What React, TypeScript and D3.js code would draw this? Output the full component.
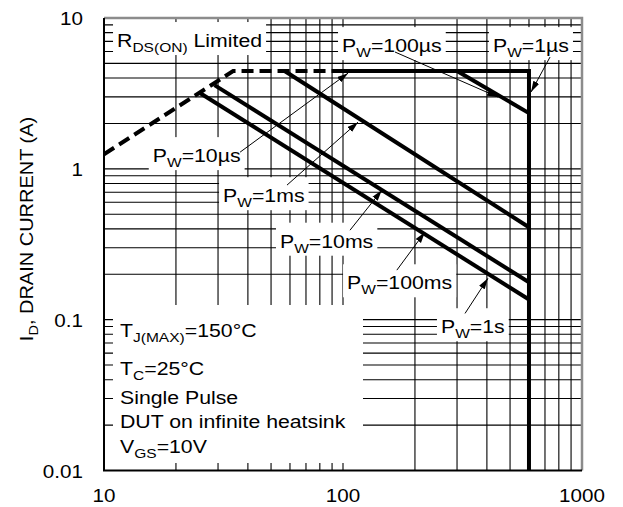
import React, { useEffect, useRef } from 'react';
import * as d3 from 'd3';

type Pt = [number, number];

// SOA boundary segments, [V_DS (V), I_D (A)]
const rdsLimit: Pt[] = [[10, 1.25], [34.7, 4.45], [100, 4.45]];
const pw1us: Pt[] = [[100, 4.45], [600, 4.45], [600, 0.01]];
const pw10us: Pt[] = [[300, 4.45], [600, 2.34]];
const pw100us: Pt[] = [[57, 4.45], [600, 0.41]];
const pw1ms: Pt[] = [[29, 3.59], [600, 0.177]];
const pw10ms: Pt[] = [[25.2, 3.18], [600, 0.136]];

// pulse width callouts
const pulseNames = ['100µs', '1µs', '10µs', '1ms', '10ms', '100ms', '1s'];
const pulseLabelAt: Pt[] = [[99.1, 5.94], [424, 5.94], [16.0, 1.108], [31.5, 0.601], [54.5, 0.3], [104, 0.159], [257, 0.0813]];
const arrowFrom: Pt[] = [[165, 5.95], [735, 5.51], [37.1, 1.29], [58.3, 0.78], [107, 0.392], [168, 0.213], [324, 0.11]];
const arrowTo: Pt[] = [[445, 2.99], [612, 3.23], [105, 4.31], [115.6, 2.04], [145.5, 0.723], [220, 0.38], [404, 0.188]];

const rdsLabelAt: Pt = [11.34, 6.42];

const xTickValues = [10, 100, 1000];
const xTickLabels = ['10', '100', '1000'];
const yTickValues = [0.01, 0.1, 1, 10];
const yTickLabels = ['0.01', '0.1', '1', '10'];

// conditions block: [main, subscript, rest]
const noteLines: [string, string, string][] = [
  ['T', 'J(MAX)', '=150°C'],
  ['T', 'C', '=25°C'],
  ['Single Pulse', '', ''],
  ['DUT on infinite heatsink', '', ''],
  ['V', 'GS', '=10V'],
];
const noteBaselines = [337, 375, 404, 428, 453];

const FONT = '"Liberation Sans", Arial, Helvetica, sans-serif';
const FS = 18.5;
const SX = 1.15;

const App: React.FC = () => {
  const svgRef = useRef<SVGSVGElement | null>(null);

  useEffect(() => {
    drawChart();
  }, []);

  const drawChart = () => {
    const W = 623;
    const H = 507;
    const x0 = 104, x1 = 582, y0 = 18, y1 = 470.5;

    const svg = d3.select(svgRef.current);
    svg.selectAll('*').remove();
    svg.attr('width', W).attr('height', H).style('font-family', FONT);

    const xScale = d3.scaleLog().domain([10, 1000]).range([x0, x1]);
    const yScale = d3.scaleLog().domain([0.01, 10]).range([y1, y0]);

    svg.append('rect').attr('width', W).attr('height', H).attr('fill', '#fff');

    const defs = svg.append('defs');
    defs.append('marker')
      .attr('id', 'head')
      .attr('viewBox', '0 0 10 6')
      .attr('refX', 10)
      .attr('refY', 3)
      .attr('markerWidth', 11)
      .attr('markerHeight', 7)
      .attr('markerUnits', 'userSpaceOnUse')
      .attr('orient', 'auto')
      .append('path')
      .attr('d', 'M0,0 L10,3 L0,6 z')
      .attr('fill', '#000');

    // grid
    const grid = svg.append('g').attr('stroke', '#000').attr('stroke-width', 1.1);
    xScale.ticks().filter((v) => v > 10 && v < 1000).forEach((v) => {
      grid.append('line').attr('x1', xScale(v)).attr('x2', xScale(v)).attr('y1', y0).attr('y2', y1);
    });
    yScale.ticks().filter((v) => v > 0.0101 && v < 9.99).forEach((v) => {
      grid.append('line').attr('x1', x0).attr('x2', x1).attr('y1', yScale(v)).attr('y2', yScale(v));
    });

    const addParts = (text: d3.Selection<SVGTextElement, unknown, null, undefined>, main: string, sub: string, rest: string) => {
      text.append('tspan').text(main);
      if (sub) {
        text.append('tspan').attr('font-size', FS * 0.73).attr('dy', 5).text(sub);
        text.append('tspan').attr('dy', -5).text(rest);
      }
    };

    // callout labels with white boxes
    const labels = svg.append('g');
    const addLabel = (at: Pt, main: string, sub: string, rest: string) => {
      const g = labels.append('g')
        .attr('transform', `translate(${xScale(at[0])},${yScale(at[1])}) scale(${SX},1)`);
      const rect = g.append('rect').attr('fill', '#fff');
      const text = g.append('text').attr('font-size', FS).attr('fill', '#000');
      addParts(text, main, sub, rest);
      const bb = (text.node() as SVGTextElement).getBBox();
      rect.attr('x', bb.x - 3.5).attr('y', -25).attr('width', bb.width + 7).attr('height', 33);
    };
    addLabel(rdsLabelAt, 'R', 'DS(ON)', ' Limited');
    pulseNames.forEach((name, i) => addLabel(pulseLabelAt[i], 'P', 'W', '=' + name));

    // conditions block
    const note = svg.append('g');
    note.append('rect').attr('x', x0 + 9).attr('y', 305).attr('width', 250).attr('height', 158).attr('fill', '#fff');
    noteLines.forEach((ln, i) => {
      const text = note.append('g')
        .attr('transform', `translate(${x0 + 16},${noteBaselines[i]}) scale(${SX},1)`)
        .append('text').attr('font-size', FS);
      addParts(text, ln[0], ln[1], ln[2]);
    });

    // SOA lines
    const line = d3.line<Pt>().x((d) => xScale(d[0])).y((d) => yScale(d[1]));
    const curves = svg.append('g').attr('fill', 'none').attr('stroke', '#000').attr('stroke-width', 4);
    curves.append('path').attr('d', line(rdsLimit)).attr('stroke-dasharray', '12,6');
    [pw1us, pw10us, pw100us, pw1ms, pw10ms].forEach((seg) => {
      curves.append('path').attr('d', line(seg));
    });

    // arrows
    const arrows = svg.append('g').attr('stroke', '#000').attr('stroke-width', 1);
    arrowFrom.forEach((p, i) => {
      arrows.append('line')
        .attr('x1', xScale(p[0])).attr('y1', yScale(p[1]))
        .attr('x2', xScale(arrowTo[i][0])).attr('y2', yScale(arrowTo[i][1]))
        .attr('marker-end', 'url(#head)');
    });

    // frame
    svg.append('path')
      .attr('d', `M${x0},${y0} H${x1} V${y1}`)
      .attr('fill', 'none').attr('stroke', '#8c8c8c').attr('stroke-width', 2.5);
    svg.append('path')
      .attr('d', `M${x0},${y0} V${y1} H${x1}`)
      .attr('fill', 'none').attr('stroke', '#000').attr('stroke-width', 2);

    // tick labels
    xTickValues.forEach((v, i) => {
      svg.append('g').attr('transform', `translate(${xScale(v)},502) scale(${SX * 0.97},1)`)
        .append('text').attr('font-size', FS).attr('text-anchor', 'middle').text(xTickLabels[i]);
    });
    yTickValues.forEach((v, i) => {
      svg.append('g').attr('transform', `translate(83,${yScale(v) + 7}) scale(${SX * 0.97},1)`)
        .append('text').attr('font-size', FS).attr('text-anchor', 'end').text(yTickLabels[i]);
    });

    // y axis title
    const title = svg.append('g').attr('transform', 'translate(33,229) rotate(-90) scale(1.08,1)')
      .append('text').attr('font-size', FS).attr('text-anchor', 'middle');
    addParts(title, 'I', 'D', ', DRAIN CURRENT (A)');
  };

  return <svg ref={svgRef} style={{ position: 'absolute', left: 0, top: 0 }}></svg>;
};

export default App;
